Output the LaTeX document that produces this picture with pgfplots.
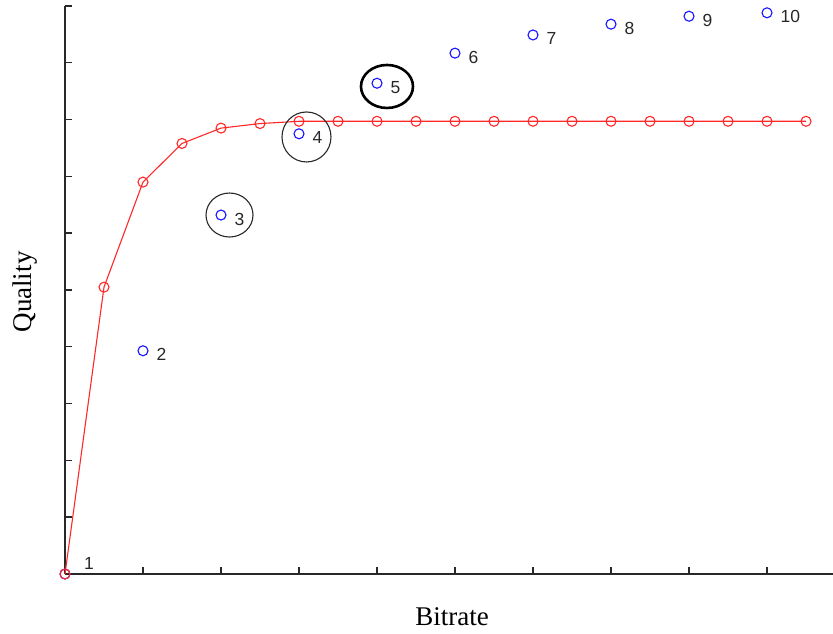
\documentclass[border=0pt]{standalone}
\usepackage{pgfplots}
\pgfplotsset{compat=1.18}
\usepackage{fontspec}
\setmainfont{Liberation Serif}
\newfontfamily\labelfont{Liberation Sans}

\definecolor{axisgray}{RGB}{40,40,40}
\definecolor{curvered}{RGB}{255,40,40}
\definecolor{ptblue}{RGB}{20,20,255}

\tikzset{idx/.style={anchor=west, inner sep=0pt, text=axisgray,
    font=\labelfont\fontsize{17.5}{20}\selectfont}}

\begin{document}
\begin{tikzpicture}
\useasboundingbox (-65pt,-60pt) rectangle (768pt,574pt);
\begin{axis}[
  at={(0pt,0pt)}, anchor=south west,
  scale only axis, width=768pt, height=568pt,
  xmin=0, xmax=9.846, ymin=0, ymax=10,
  axis x line=bottom, axis y line=left,
  axis line style={-, line width=1.4pt, draw=axisgray},
  xtick={1,...,9}, ytick={1,...,10},
  xticklabels={}, yticklabels={},
  tick align=inside, major tick length=7pt,
  tick style={line width=1.4pt, draw=axisgray},
  clip=false,
]
% encoded points with their index labels
\addplot[ptblue, only marks, mark=o, mark size=5pt,
  mark options={line width=1.1pt},
  nodes near coords, point meta=explicit symbolic,
  nodes near coords style={idx, xshift=13pt, yshift=-4pt}]
  coordinates {
    (0,0)[]
    (1,3.93)[2]
    (2,6.32)[3]
    (3,7.75)[4]
    (4,8.64)[5]
    (5,9.17)[6]
    (6,9.49)[7]
    (7,9.68)[8]
    (8,9.82)[9]
    (9,9.88)[10]
  };
\addplot[draw=none, mark=none,
  nodes near coords, point meta=explicit symbolic,
  nodes near coords style={idx, xshift=19pt, yshift=11pt}]
  coordinates {(0,0)[1]};
% upper envelope
\addplot[curvered, line width=1.1pt, mark=o, mark size=5pt,
  mark options={line width=1.1pt}]
  coordinates {
    (0,0) (0.5,5.05) (1,6.90) (1.5,7.58) (2,7.85) (2.5,7.93)
    (3,7.97) (3.5,7.97) (4,7.97) (4.5,7.97) (5,7.97) (5.5,7.97)
    (6,7.97) (6.5,7.97) (7,7.97) (7.5,7.97) (8,7.97) (8.5,7.97)
    (9,7.97) (9.5,7.97)
  };
% highlighted points
\draw[axisgray, line width=1.1pt] (axis cs:2.109,6.320) ellipse [x radius=23.5pt, y radius=22pt];
\draw[axisgray, line width=1.1pt] (axis cs:3.096,7.694) ellipse [x radius=24.5pt, y radius=25pt];
\draw[black, line width=2.6pt] (axis cs:4.128,8.583) ellipse [x radius=26pt, y radius=21.5pt];
\end{axis}
\node[font=\fontsize{27}{30}\selectfont] at (387pt,-43pt) {Bitrate};
\node[font=\fontsize{27}{30}\selectfont, rotate=90] at (-40pt,282pt) {Quality};
\end{tikzpicture}
\end{document}
